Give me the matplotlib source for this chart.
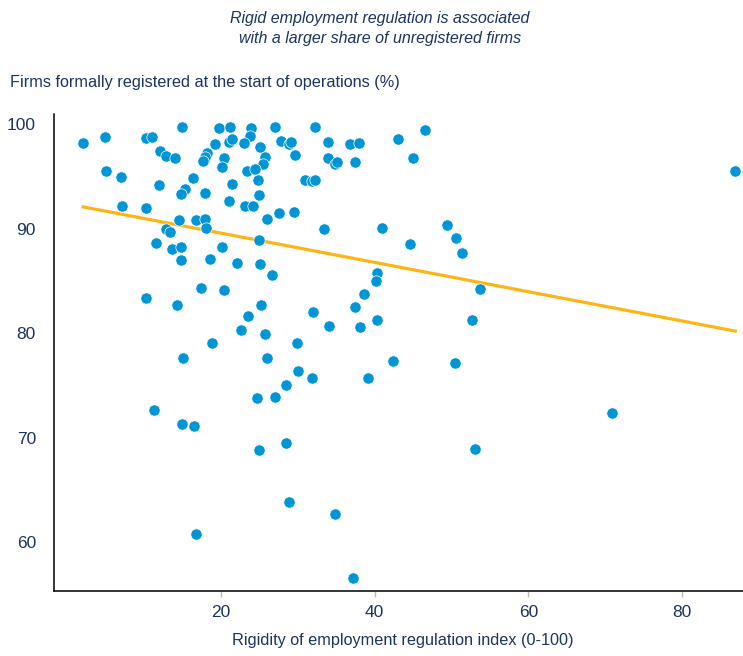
import matplotlib.pyplot as plt

# rigidity of employment regulation index (0-100)
rigidity = [
    2.1, 4.9, 10.2, 11.0, 14.9, 19.8, 21.2, 23.9, 23.8, 27.0,
    32.2, 46.5, 12.1, 12.9, 14.0, 18.2, 17.9, 17.7, 19.2, 21.0,
    21.5, 23.0, 25.1, 27.8, 28.9, 29.1, 33.9, 36.8, 38.0, 43.0,
    20.4, 20.2, 25.7, 25.5, 29.6, 33.9, 34.9, 35.1, 37.5, 45.0,
    5.0, 7.0, 16.4, 21.5, 11.9, 15.4, 14.8, 18.0, 21.0, 23.4,
    24.5, 24.8, 30.9, 31.9, 32.2, 25.0, 7.1, 10.2, 23.2, 24.2,
    14.6, 16.8, 17.9, 18.1, 12.9, 13.4, 26.0, 27.6, 29.5, 33.4,
    41.0, 49.4, 50.6, 51.3, 44.6, 25.0, 11.5, 13.6, 14.8, 20.2,
    14.8, 18.6, 22.1, 25.1, 26.6, 40.3, 40.2, 38.6, 53.7, 10.2,
    14.3, 17.4, 20.4, 23.5, 22.6, 18.8, 25.2, 32.0, 25.7, 34.1,
    37.4, 38.1, 40.3, 52.6, 29.9, 15.1, 26.0, 42.4, 50.5, 30.0,
    31.9, 39.1, 28.5, 27.1, 24.7, 11.3, 14.9, 16.5, 28.5, 24.9,
    53.1, 70.9, 28.8, 34.8, 16.8, 37.2, 86.9,
]

# firms formally registered at the start of operations (%)
registered = [
    98.2, 98.8, 98.7, 98.8, 99.8, 99.7, 99.8, 99.7, 98.9, 99.8,
    99.8, 99.5, 97.5, 97.0, 96.8, 97.3, 96.9, 96.5, 98.1, 98.3,
    98.6, 98.2, 97.8, 98.4, 98.1, 98.3, 98.3, 98.1, 98.2, 98.6,
    96.8, 95.9, 96.9, 96.2, 97.1, 96.8, 96.2, 96.4, 96.4, 96.8,
    95.5, 95.0, 94.9, 94.3, 94.2, 93.8, 93.3, 93.4, 92.7, 95.5,
    95.7, 94.7, 94.7, 94.6, 94.7, 93.2, 92.2, 92.0, 92.2, 92.2,
    90.8, 90.8, 90.9, 90.1, 90.0, 89.7, 90.9, 91.5, 91.6, 90.0,
    90.1, 90.4, 89.1, 87.7, 88.5, 88.9, 88.6, 88.1, 88.3, 88.3,
    87.0, 87.1, 86.7, 86.6, 85.6, 85.8, 85.0, 83.8, 84.2, 83.4,
    82.7, 84.3, 84.1, 81.6, 80.3, 79.1, 82.7, 82.0, 79.9, 80.7,
    82.5, 80.6, 81.3, 81.3, 79.1, 77.6, 77.6, 77.3, 77.1, 76.4,
    75.7, 75.7, 75.0, 73.9, 73.8, 72.6, 71.3, 71.1, 69.5, 68.8,
    68.9, 72.4, 63.8, 62.7, 60.8, 56.5, 95.5,
]

# fitted line
trend_x = [2.1, 86.9]
trend_y = [92.1, 80.2]

xticks = [20, 40, 60, 80]
yticks = [60, 70, 80, 90, 100]

navy = "#1c3461"
plt.rcParams["font.family"] = ["Liberation Sans", "DejaVu Sans"]

fig = plt.figure(figsize=(7.43, 6.56), dpi=100)
ax = fig.add_axes([54 / 743, 1 - 591 / 656, 1 - 54 / 743, (591 - 114) / 656])

ax.scatter(rigidity, registered, s=66, color="#0096d6", edgecolor="white",
           linewidth=0.5, zorder=3)
ax.plot(trend_x, trend_y, color="#fdb515", lw=2.3, zorder=2)

ax.set_xlim(-1.7, 87.9)
ax.set_ylim(55.3, 101.0)
ax.set_xticks(xticks)
ax.set_yticks(yticks)

for side in ["top", "right"]:
    ax.spines[side].set_visible(False)
for side in ["left", "bottom"]:
    ax.spines[side].set_linewidth(1.1)
    ax.spines[side].set_color("black")

ax.tick_params(axis="x", length=4, width=1, color="#bbbbbb", pad=6,
               labelsize=12.5, labelcolor=navy)
ax.tick_params(axis="y", length=0, pad=13, labelsize=12.5, labelcolor=navy)

# title, two centred italic lines
fig.text(380 / 743, 1 - 18 / 656, "Rigid employment regulation is associated",
         ha="center", va="center", fontsize=11.5, style="italic", color=navy)
fig.text(380 / 743, 1 - 38 / 656, "with a larger share of unregistered firms",
         ha="center", va="center", fontsize=11.5, style="italic", color=navy)

# axis titles
fig.text(10 / 743, 1 - 82 / 656,
         "Firms formally registered at the start of operations (%)",
         ha="left", va="center", fontsize=11.7, color=navy)
fig.text(403 / 743, 1 - 640 / 656,
         "Rigidity of employment regulation index (0-100)",
         ha="center", va="center", fontsize=11.7, color=navy)

plt.savefig("out.png", dpi=100)
